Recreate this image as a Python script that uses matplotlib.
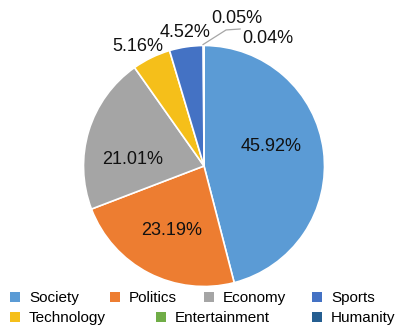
import matplotlib.pyplot as plt
from matplotlib.patches import Patch

plt.rcParams['font.family'] = ['Liberation Sans', 'DejaVu Sans']

# share of items per category (pie order, clockwise from 12 o'clock)
categories = ['Society', 'Politics', 'Economy', 'Technology', 'Sports', 'Entertainment', 'Humanity']
shares = [45.92, 23.19, 21.01, 5.16, 4.52, 0.05, 0.04]
colors = ['#5B9BD5', '#ED7D31', '#A5A5A5', '#F5BF1A', '#4472C4', '#70AD47', '#255E91']

# legend rows
legend_rows = [['Society', 'Politics', 'Economy', 'Sports'],
               ['Technology', 'Entertainment', 'Humanity']]
# left edge of each legend key, in pixels
legend_x = [[10, 110, 204, 312], [10, 156, 312]]

# label anchor per slice, in axes data units
label_pos = [(0.556, 0.158), (-0.266, -0.539), (-0.589, 0.058),
             (-0.548, 0.988), (-0.158, 1.104), (0.274, 1.22), (0.531, 1.054)]

fig = plt.figure(figsize=(3.98, 3.31), dpi=100)
W, H = 398, 331
cx, cy, r = 204, 166, 120.5
ax = fig.add_axes([(cx - r) / W, (H - cy - r) / H, 2 * r / W, 2 * r / H])

wedges, _ = ax.pie(shares, colors=colors, startangle=90, counterclock=False,
                   wedgeprops=dict(edgecolor='white', linewidth=1.2))
ax.set_xlim(-1, 1)
ax.set_ylim(-1, 1)
ax.set_aspect('equal')
ax.axis('off')

for v, (x, y) in zip(shares, label_pos):
    ax.text(x, y, f'{v:.2f}%', ha='center', va='center', fontsize=13,
            color='#111111', clip_on=False)

# leader line for the tiny slice at the top
ax.plot([-0.008, 0.183, 0.30], [1.008, 1.129, 1.137], color='#A6A6A6',
        lw=0.9, clip_on=False)

color_of = dict(zip(categories, colors))
for row, xs, y in zip(legend_rows, legend_x, [298, 318]):
    for name, x in zip(row, xs):
        fig.legend([Patch(facecolor=color_of[name], edgecolor='none')], [name],
                   loc='center left', bbox_to_anchor=(x / W, 1 - y / H),
                   frameon=False, fontsize=11,
                   handlelength=0.65, handleheight=0.65, handletextpad=0.6,
                   borderpad=0, borderaxespad=0)

fig.savefig('out.png', dpi=100)
